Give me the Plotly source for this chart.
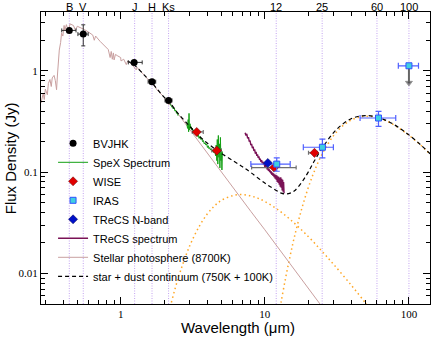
import numpy as np
import plotly.graph_objects as go

# photometry (wavelength um, flux Jy)
bvjhk_wl = [0.44, 0.55, 1.24, 1.65, 2.15]
bvjhk_f = [2.5, 2.3, 1.21, 0.78, 0.51]
bvjhk_xm = [0.05, 0.045, 0.11, 0.10, 0.12]
bvjhk_xp = [0.05, 0.045, 0.17, 0.10, 0.12]
bvjhk_ye = [0.0, 0.54, 0.0, 0.0, 0.0]

wise_wl = [3.37, 4.64, 11.6, 22.1]
wise_f = [0.249, 0.163, 0.111, 0.155]
wise_xm = [0.23, 0.35, 3.5, 2.0]
wise_xp = [0.37, 0.35, 4.9, 1.0]

iras_wl = [12.1, 25.1, 61.5, 100.0]
iras_f = [0.12, 0.176, 0.342, 1.12]
iras_xm = [4.1, 6.6, 15.7, 15.6]
iras_xp = [2.9, 4.8, 19.5, 16.5]
iras_yp = [0.018, 0.036, 0.055, 0.0]
iras_ym = [0.018, 0.038, 0.059, 0.0]
iras_lim_f = [1.12, 0.76]

trecs_n_wl = [10.5]
trecs_n_f = [0.123]

spex_wl = [2.20, 2.23, 2.26, 2.29, 2.32, 2.35, 2.38, 2.41, 2.44, 2.47, 2.50, None,
           2.88, 2.91, 2.94, 2.96, 2.98, 3.00, 3.03, 3.06, 3.09, 3.12, 3.15, 3.18,
           3.21, 3.25, 3.29, 3.33, 3.37, 3.41, 3.45, 3.50, 3.55, 3.60, 3.65, 3.70,
           3.75, 3.80, 3.85, 3.90, 3.95, 4.00, 4.05, 4.10, 4.15, 4.20, 4.26, 4.32,
           4.38, 4.44, 4.50, 4.55, 4.60, 4.64, 4.68, 4.72, 4.76, 4.80, 4.84, 4.88,
           4.92, 4.96, 5.00, 5.04, 5.08]
spex_f = [0.47, 0.46, 0.45, 0.43, 0.42, 0.43, 0.40, 0.41, 0.38, 0.39, 0.36, None,
          0.30, 0.27, 0.33, 0.25, 0.38, 0.26, 0.30, 0.27, 0.28, 0.26, 0.27, 0.25,
          0.26, 0.24, 0.25, 0.235, 0.245, 0.225, 0.235, 0.215, 0.225, 0.21, 0.215, 0.20,
          0.205, 0.19, 0.195, 0.185, 0.19, 0.175, 0.182, 0.17, 0.175, 0.165, 0.17, 0.16,
          0.165, 0.155, 0.17, 0.145, 0.185, 0.13, 0.21, 0.12, 0.23, 0.14, 0.19, 0.11,
          0.22, 0.13, 0.17, 0.105, 0.16]

trecs_wl = [7.3, 7.4, 7.5, 7.6, 7.7, 7.8, 7.9, 8.0, 8.1, 8.2, 8.3, 8.4, 8.5, 8.6,
            8.7, 8.8, 8.9, 9.0, 9.1, 9.2, 9.3, 9.4, 9.5, 9.6, 9.7, 9.8, 9.9, 10.0,
            10.1, 10.2, 10.3, 10.4, 10.5, 10.6, 10.7, 10.8, 10.9, 11.0, 11.1, 11.2,
            11.3, 11.4, 11.5, 11.6, 11.7, 11.8, 11.9, 12.0, 12.1, 12.2, 12.3, 12.4,
            12.5, 12.6, 12.7, 12.8, 12.9, 13.0, 13.1, 13.2, 13.3, 13.4, 13.5, 13.6]
trecs_f = [0.245, 0.230, 0.238, 0.215, 0.222, 0.200, 0.205, 0.185, 0.190, 0.172,
           0.178, 0.162, 0.168, 0.152, 0.158, 0.145, 0.150, 0.138, 0.143, 0.132,
           0.136, 0.126, 0.131, 0.122, 0.127, 0.118, 0.122, 0.113, 0.118, 0.110,
           0.114, 0.106, 0.111, 0.103, 0.108, 0.100, 0.104, 0.097, 0.102, 0.094,
           0.099, 0.092, 0.097, 0.089, 0.095, 0.086, 0.094, 0.084, 0.093, 0.080,
           0.091, 0.078, 0.090, 0.075, 0.088, 0.072, 0.089, 0.070, 0.086, 0.066,
           0.084, 0.064, 0.080, 0.062]

phot_wl = [0.280, 0.290, 0.295, 0.300, 0.310, 0.315, 0.323, 0.330, 0.335, 0.345,
           0.352, 0.359, 0.365, 0.375, 0.383, 0.389, 0.397, 0.405, 0.410, 0.420,
           0.434, 0.445, 0.470, 0.486, 0.500, 0.530, 0.560, 0.600, 0.640, 0.656,
           0.670, 0.720, 0.760, 0.800, 0.820, 0.845, 0.860, 0.875, 0.890, 0.900,
           0.920, 0.955, 1.000, 1.005, 1.050, 1.094, 1.12, 1.20, 1.282, 1.30,
           1.45, 1.60, 1.70, 1.80, 2.00, 2.166, 2.20, 2.50, 3.0, 3.4, 4.0, 4.6,
           5.0, 6.0, 7.0, 8.0, 10.0, 12.0, 14.0, 16.0, 18.0, 20.0, 25.0, 30.0]
phot_f = [0.48, 0.60, 0.52, 0.66, 0.58, 0.75, 0.82, 0.70, 0.85, 0.90,
          0.80, 0.65, 0.95, 1.60, 1.90, 2.35, 2.20, 2.80, 2.50, 2.85,
          2.45, 2.90, 2.80, 2.50, 2.75, 2.65, 2.55, 2.40, 2.25, 2.00,
          2.20, 1.95, 1.80, 1.65, 1.62, 1.35, 1.55, 1.30, 1.50, 1.28,
          1.45, 1.40, 1.35, 1.25, 1.30, 1.15, 1.25, 1.15, 1.02, 1.08,
          0.90, 0.78, 0.72, 0.64, 0.55, 0.46, 0.48, 0.375, 0.266, 0.209, 0.154, 0.118,
          0.100, 0.071, 0.053, 0.041, 0.027, 0.019, 0.0142, 0.011, 0.0089, 0.0073, 0.0047, 0.0033]

hot_wl = [2.1, 2.2, 2.4, 2.6, 3.0, 3.5, 4.0, 4.5, 5.0, 6.0, 7.0, 8.0, 9.0, 10.0,
          12.0, 15.0, 20.0, 25.0, 30.0, 40.0, 50.0, 55.0]
hot_f = [0.0035, 0.0046, 0.0073, 0.0106, 0.0185, 0.029, 0.0388, 0.0468, 0.0526,
         0.0587, 0.060, 0.0582, 0.0551, 0.0513, 0.0438, 0.0341, 0.0232, 0.0165,
         0.0123, 0.0076, 0.0051, 0.0042]

cold_wl = [12.5, 13, 14, 15, 16, 18, 20, 22, 25, 30, 35, 40, 45, 51, 60, 70, 80,
           90, 100, 120, 140]
cold_f = [0.0038, 0.0053, 0.0093, 0.0150, 0.0226, 0.043, 0.070, 0.101, 0.151,
          0.229, 0.289, 0.328, 0.348, 0.355, 0.345, 0.319, 0.288, 0.258, 0.231,
          0.186, 0.151]

tot_wl = [1.12, 1.25, 1.5, 1.65, 2.0, 2.15, 2.5, 3.0, 3.4, 4.0, 4.6, 5.0, 6.0,
          7.0, 8.0, 10.0, 12.0, 13.0, 14.0, 15.0, 16.0, 18.0, 20.0, 22.0, 25.0,
          30.0, 35.0, 40.0, 45.0, 51.0, 60.0, 70.0, 80.0, 90.0, 100.0, 120.0, 140.0]
tot_f = [1.25, 1.13, 0.87, 0.76, 0.55, 0.503, 0.38, 0.285, 0.236, 0.193, 0.166,
         0.153, 0.130, 0.113, 0.099, 0.078, 0.066, 0.062, 0.061, 0.062, 0.065,
         0.079, 0.100, 0.128, 0.172, 0.245, 0.301, 0.338, 0.356, 0.361, 0.350,
         0.322, 0.291, 0.260, 0.233, 0.187, 0.152]

band_wl = [0.44, 0.55, 1.25, 1.65, 2.15, 12, 25, 60, 100]
band_lbl = ['B', 'V', 'J', 'H', 'Ks', '12', '25', '60', '100']

SANS = 'Liberation Sans, Arial, sans-serif'
SERIF = 'Liberation Serif, Times New Roman, serif'

fig = go.Figure()

# band markers
for w, lbl in zip(band_wl, band_lbl):
    fig.add_shape(type='line', xref='x', yref='paper', x0=w, x1=w, y0=0, y1=1,
                  line=dict(color='#c3a3f0', width=1, dash='1px,1.5px'), layer='below')
    fig.add_annotation(x=np.log10(w), y=1, xref='x', yref='paper', yanchor='bottom',
                       text=lbl, showarrow=False, yshift=-3,
                       font=dict(family=SANS, size=11, color='black'))

# curves first (drawn beneath the photometry)
fig.add_trace(go.Scatter(x=hot_wl, y=hot_f, mode='lines', showlegend=False, hoverinfo='skip',
                         line=dict(color='#ffa726', width=1.5, dash='1.5px,3px', shape='spline')))
fig.add_trace(go.Scatter(x=cold_wl, y=cold_f, mode='lines', showlegend=False, hoverinfo='skip',
                         line=dict(color='#ffa726', width=1.5, dash='1.5px,3px', shape='spline')))
fig.add_trace(go.Scatter(x=phot_wl, y=phot_f, mode='lines', name='Stellar photosphere (8700K)',
                         legendrank=7, line=dict(color='#c9a0a0', width=1)))
fig.add_trace(go.Scatter(x=spex_wl, y=spex_f, mode='lines', name='SpeX Spectrum',
                         legendrank=2, line=dict(color='#13a013', width=1)))
fig.add_trace(go.Scatter(x=trecs_wl, y=trecs_f, mode='lines', name='TReCS spectrum',
                         legendrank=6, line=dict(color='#7a1256', width=1.4)))
fig.add_trace(go.Scatter(x=tot_wl, y=tot_f, mode='lines', name='star + dust continuum (750K + 100K)',
                         legendrank=8, line=dict(color='black', width=1.2, dash='4px,3px', shape='spline')))

fig.add_trace(go.Scatter(x=bvjhk_wl, y=bvjhk_f, mode='markers', name='BVJHK', legendrank=1,
                         marker=dict(color='black', size=7),
                         error_x=dict(type='data', symmetric=False, array=bvjhk_xp, arrayminus=bvjhk_xm,
                                      color='#333333', thickness=1, width=2),
                         error_y=dict(type='data', array=bvjhk_ye, color='#333333', thickness=1, width=2)))
fig.add_trace(go.Scatter(x=wise_wl, y=wise_f, mode='markers', name='WISE', legendrank=3,
                         marker=dict(color='#e00000', size=7, symbol='diamond',
                                     line=dict(color='#600000', width=0.5)),
                         error_x=dict(type='data', symmetric=False, array=wise_xp, arrayminus=wise_xm,
                                      color='#707070', thickness=1.2, width=2)))
fig.add_trace(go.Scatter(x=[iras_wl[3], iras_wl[3]], y=iras_lim_f, mode='lines+markers',
                         showlegend=False, hoverinfo='skip',
                         line=dict(color='#666666', width=2),
                         marker=dict(symbol='triangle-down', size=[0, 6], color='#444444')))
fig.add_trace(go.Scatter(x=iras_wl, y=iras_f, mode='markers', name='IRAS', legendrank=4,
                         marker=dict(color='#3fd0e0', size=6, symbol='square',
                                     line=dict(color='#3050ff', width=1)),
                         error_x=dict(type='data', symmetric=False, array=iras_xp, arrayminus=iras_xm,
                                      color='#5060ff', thickness=1.2, width=3),
                         error_y=dict(type='data', symmetric=False, array=iras_yp, arrayminus=iras_ym,
                                      color='#5060ff', thickness=1.2, width=3)))
fig.add_trace(go.Scatter(x=trecs_n_wl, y=trecs_n_f, mode='markers', name='TReCS N-band', legendrank=5,
                         marker=dict(color='#0010c8', size=7, symbol='diamond',
                                     line=dict(color='#000050', width=0.5))))

axis_common = dict(type='log', showline=True, linecolor='black', linewidth=1, mirror='allticks',
                   ticks='inside', ticklen=7, tickcolor='black', showgrid=False, zeroline=False,
                   automargin=False, tickfont=dict(family=SERIF, size=11, color='black'),
                   minor=dict(ticks='inside', ticklen=4, tickcolor='black', dtick='D1', showgrid=False))
fig.update_xaxes(range=[np.log10(0.28), np.log10(140)], dtick=1, **axis_common)
fig.update_yaxes(range=[np.log10(0.005), np.log10(3.8)], dtick=1, **axis_common)

# axis titles
fig.add_annotation(text='Wavelength (μm)', xref='paper', yref='paper', x=0.506, y=-0.079,
                   xanchor='center', yanchor='middle', showarrow=False,
                   font=dict(family=SANS, size=15, color='black'))
fig.add_annotation(text='Flux Density (Jy)', xref='paper', yref='paper', x=-0.079, y=0.5,
                   xanchor='center', yanchor='middle', showarrow=False, textangle=-90,
                   font=dict(family=SANS, size=15, color='black'))

fig.update_layout(width=436, height=337, margin=dict(l=41, r=6, t=12, b=33),
                  paper_bgcolor='white', plot_bgcolor='white',
                  legend=dict(x=0.031, y=0.60, xanchor='left', yanchor='top',
                              bgcolor='rgba(0,0,0,0)', font=dict(family=SANS, size=11, color='black'),
                              tracegroupgap=0))

# drop the default page margin so the figure sits in the window corner
fig.write_html('out.html', config={'displayModeBar': False},
               post_script="document.body.style.margin='0';")
